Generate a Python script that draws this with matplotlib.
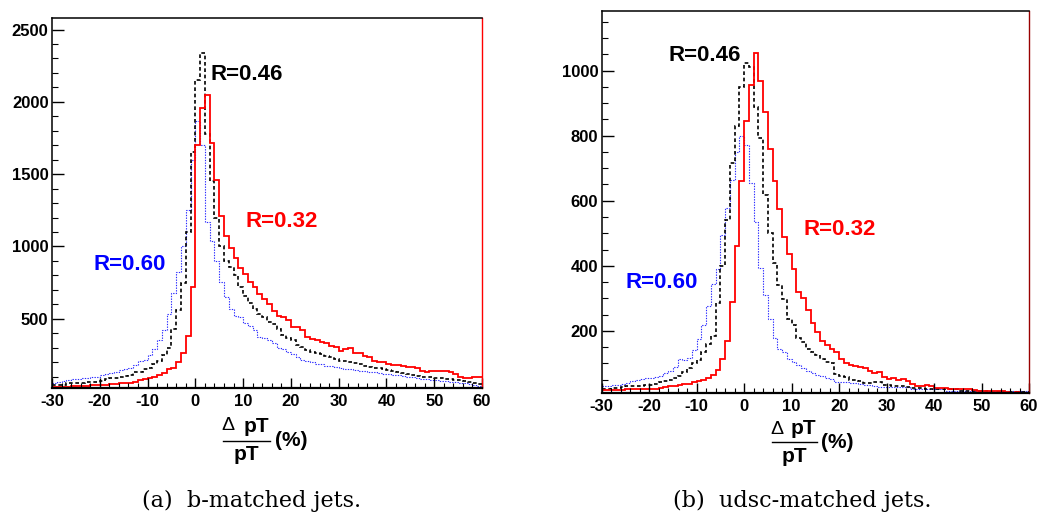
import numpy as np
import matplotlib
matplotlib.use("Agg")
import matplotlib.pyplot as plt
from matplotlib.lines import Line2D
from matplotlib.ticker import MultipleLocator

plt.rcParams['axes.unicode_minus'] = False

# ---------------- data ----------------
bin_edges = np.arange(-30, 61, 1)          # delta pT / pT (%) bins

# (a) b-matched jets
b_r032 = [25, 28, 30, 30, 33, 35, 35, 38, 40, 42,
          42, 45, 50, 52, 53, 55, 58, 65, 75, 82,
          90, 100, 108, 125, 150, 160, 200, 265, 380, 720,
          1700, 1960, 2050, 1715, 1460, 1210, 1070, 990, 920, 850,
          810, 755, 720, 670, 640, 600, 555, 520, 510, 490,
          445, 440, 420, 375, 360, 352, 340, 335, 310, 305,
          280, 290, 300, 265, 260, 245, 235, 205, 203, 200,
          190, 180, 178, 175, 168, 165, 160, 140, 135, 138,
          140, 140, 138, 135, 120, 95, 90, 88, 95, 97]
b_r046 = [40, 40, 42, 55, 57, 57, 58, 62, 64, 64,
          66, 85, 88, 90, 100, 104, 110, 130, 134, 150,
          157, 190, 210, 250, 300, 430, 560, 750, 1100, 1650,
          2150, 2340, 1780, 1450, 1200, 1000, 900, 860, 800, 720,
          660, 610, 565, 535, 510, 480, 465, 430, 390, 370,
          355, 320, 305, 285, 270, 260, 255, 240, 235, 220,
          210, 205, 200, 195, 185, 175, 168, 162, 158, 150,
          145, 140, 130, 122, 115, 110, 105, 100, 98, 95,
          92, 88, 85, 80, 76, 74, 70, 60, 55, 50]
b_r060 = [55, 60, 70, 78, 82, 85, 88, 92, 98, 100,
          108, 120, 122, 130, 145, 150, 160, 180, 205, 215,
          250, 290, 350, 420, 530, 680, 820, 1000, 1250, 1600,
          1870, 1700, 1170, 1040, 900, 755, 652, 565, 520, 510,
          470, 450, 420, 375, 370, 350, 330, 300, 290, 272,
          255, 235, 215, 205, 200, 190, 185, 175, 170, 165,
          160, 155, 150, 145, 140, 138, 135, 132, 125, 120,
          115, 110, 108, 105, 100, 95, 90, 85, 80, 78,
          75, 70, 68, 65, 60, 58, 55, 50, 40, 35]

# (b) udsc-matched jets
u_r032 = [18, 18, 18, 18, 18, 20, 22, 22, 21, 21,
          21, 22, 24, 28, 29, 32, 34, 36, 38, 42,
          47, 50, 55, 65, 80, 115, 170, 290, 460, 660,
          844, 956, 1055, 969, 872, 760, 662, 573, 488, 436,
          390, 320, 300, 265, 225, 195, 170, 155, 145, 135,
          115, 100, 95, 92, 90, 85, 78, 72, 75, 58,
          52, 55, 50, 52, 45, 38, 32, 30, 34, 30,
          25, 24, 24, 22, 22, 20, 20, 20, 18, 16,
          16, 15, 16, 14, 15, 12, 10, 12, 10, 8]
u_r046 = [20, 20, 24, 24, 28, 29, 30, 32, 32, 33,
          34, 38, 44, 47, 49, 55, 62, 75, 85, 100,
          110, 135, 160, 185, 285, 400, 540, 715, 830, 948,
          1024, 1012, 887, 794, 618, 500, 410, 340, 297, 236,
          219, 178, 165, 145, 134, 125, 113, 105, 100, 67,
          62, 58, 49, 49, 45, 39, 39, 44, 44, 34,
          34, 29, 29, 29, 26, 24, 24, 24, 20, 20,
          20, 20, 20, 20, 20, 16, 16, 16, 16, 16,
          16, 16, 13, 13, 13, 13, 13, 13, 13, 13]
u_r060 = [30, 32, 34, 35, 36, 40, 45, 48, 52, 55,
          55, 57, 62, 70, 78, 88, 115, 110, 118, 140,
          175, 217, 275, 345, 390, 495, 577, 663, 750, 800,
          770, 655, 534, 393, 311, 236, 178, 145, 134, 113,
          105, 95, 85, 77, 70, 64, 61, 54, 52, 44,
          44, 44, 39, 39, 37, 34, 34, 30, 27, 27,
          27, 27, 27, 27, 27, 20, 20, 20, 20, 20,
          20, 20, 16, 16, 16, 16, 16, 16, 16, 16,
          16, 16, 16, 16, 16, 16, 16, 16, 16, 16]

x_ticks = [-30, -20, -10, 0, 10, 20, 30, 40, 50, 60]
labels = ["R=0.32", "R=0.46", "R=0.60"]
captions = ["(a)  b-matched jets.", "(b)  udsc-matched jets."]

# ---------------- figure ----------------
W, H = 1037, 513
fig = plt.figure(figsize=(W / 100, H / 100), dpi=100)
FONT = "Liberation Sans"


def px_axes(l, t, r, b):
    return [l / W, 1 - b / H, (r - l) / W, (b - t) / H]


def ftext(x, y, s, **kw):
    fig.text(x / W, 1 - y / H, s, **kw)


RED = "#ff0000"
BLK = "#000000"
BLU = "#2a2aff"


def panel(rect, r032, r046, r060, ylim, ymin_step, yticks, rspine, ann):
    ax = fig.add_axes(px_axes(*rect))
    ax.stairs(r060, bin_edges, baseline=None, color=BLU, lw=0.8,
              linestyle=(0, (1.2, 1.2)))
    ax.stairs(r046, bin_edges, baseline=None, color=BLK, lw=1.2,
              linestyle=(0, (2.2, 1.6)))
    ax.stairs(r032, bin_edges, baseline=None, color=RED, lw=1.3)
    ax.set_xlim(-30, 60)
    ax.set_ylim(*ylim)
    ax.set_xticks(x_ticks)
    ax.set_xticklabels([str(t) for t in x_ticks])
    ax.xaxis.set_minor_locator(MultipleLocator(2))
    ax.set_yticks(yticks)
    ax.set_yticklabels([str(t) for t in yticks])
    ax.yaxis.set_minor_locator(MultipleLocator(ymin_step))
    ax.tick_params(axis='both', which='both', direction='in', top=False,
                   right=False, color='black')
    ax.tick_params(axis='x', which='major', length=7, width=1.0, pad=4.5)
    ax.tick_params(axis='x', which='minor', length=3.5, width=0.8)
    ax.tick_params(axis='y', which='major', length=8.5, width=1.0, pad=2.5)
    ax.tick_params(axis='y', which='minor', length=4.5, width=0.8)
    for lab in ax.get_xticklabels() + ax.get_yticklabels():
        lab.set_fontfamily(FONT)
        lab.set_fontweight('bold')
        lab.set_fontsize(12)
    for s in ['left', 'top']:
        ax.spines[s].set_linewidth(1.1)
    ax.spines['bottom'].set_linewidth(1.6)
    ax.spines['right'].set_linewidth(1.0)
    ax.spines['right'].set_color(rspine)
    for (txt, col, x, y) in ann:
        ax.text(x, y, txt, color=col, fontsize=16, fontweight='bold',
                fontfamily=FONT, ha='left', va='center')
    return ax


panel((52, 18, 482, 388), b_r032, b_r046, b_r060, (21, 2580), 100,
      [500, 1000, 1500, 2000, 2500], '#ff0000',
      [(labels[1], BLK, 3.1, 2191), (labels[0], RED, 10.4, 1175),
       (labels[2], '#0000ff', -21.4, 878)])
panel((601.7, 11, 1029, 393), u_r032, u_r046, u_r060, (9, 1183), 50,
      [200, 400, 600, 800, 1000], '#990000',
      [(labels[1], BLK, -16.0, 1045), (labels[0], RED, 12.4, 513),
       (labels[2], '#0000ff', -24.9, 350)])


def xlabel(x0, x1, ynum, yline, yden, xpct):
    cx = (x0 + x1) / 2
    ftext(x0 + 5, ynum, "Δ", fontsize=14, fontfamily=FONT, ha='center',
          va='center')
    ftext(x1 - 1, ynum, "pT", fontsize=15, fontfamily=FONT,
          fontweight='bold', ha='right', va='center')
    fig.add_artist(Line2D([x0 / W, x1 / W], [1 - yline / H] * 2,
                          transform=fig.transFigure, color='black', lw=1.0))
    ftext(cx, yden, "pT", fontsize=15, fontfamily=FONT, fontweight='bold',
          ha='center', va='center')
    ftext(xpct, yline, "(%)", fontsize=15, fontfamily=FONT,
          fontweight='bold', ha='left', va='center')


xlabel(223, 270, 426, 441, 455, 275)
xlabel(772, 817, 429, 442, 457, 821)

ftext(252, 507, captions[0], fontsize=16, fontfamily="DejaVu Serif",
      ha='center', va='baseline')
ftext(802, 507, captions[1], fontsize=16, fontfamily="DejaVu Serif",
      ha='center', va='baseline')

fig.savefig("out.png", dpi=100)
